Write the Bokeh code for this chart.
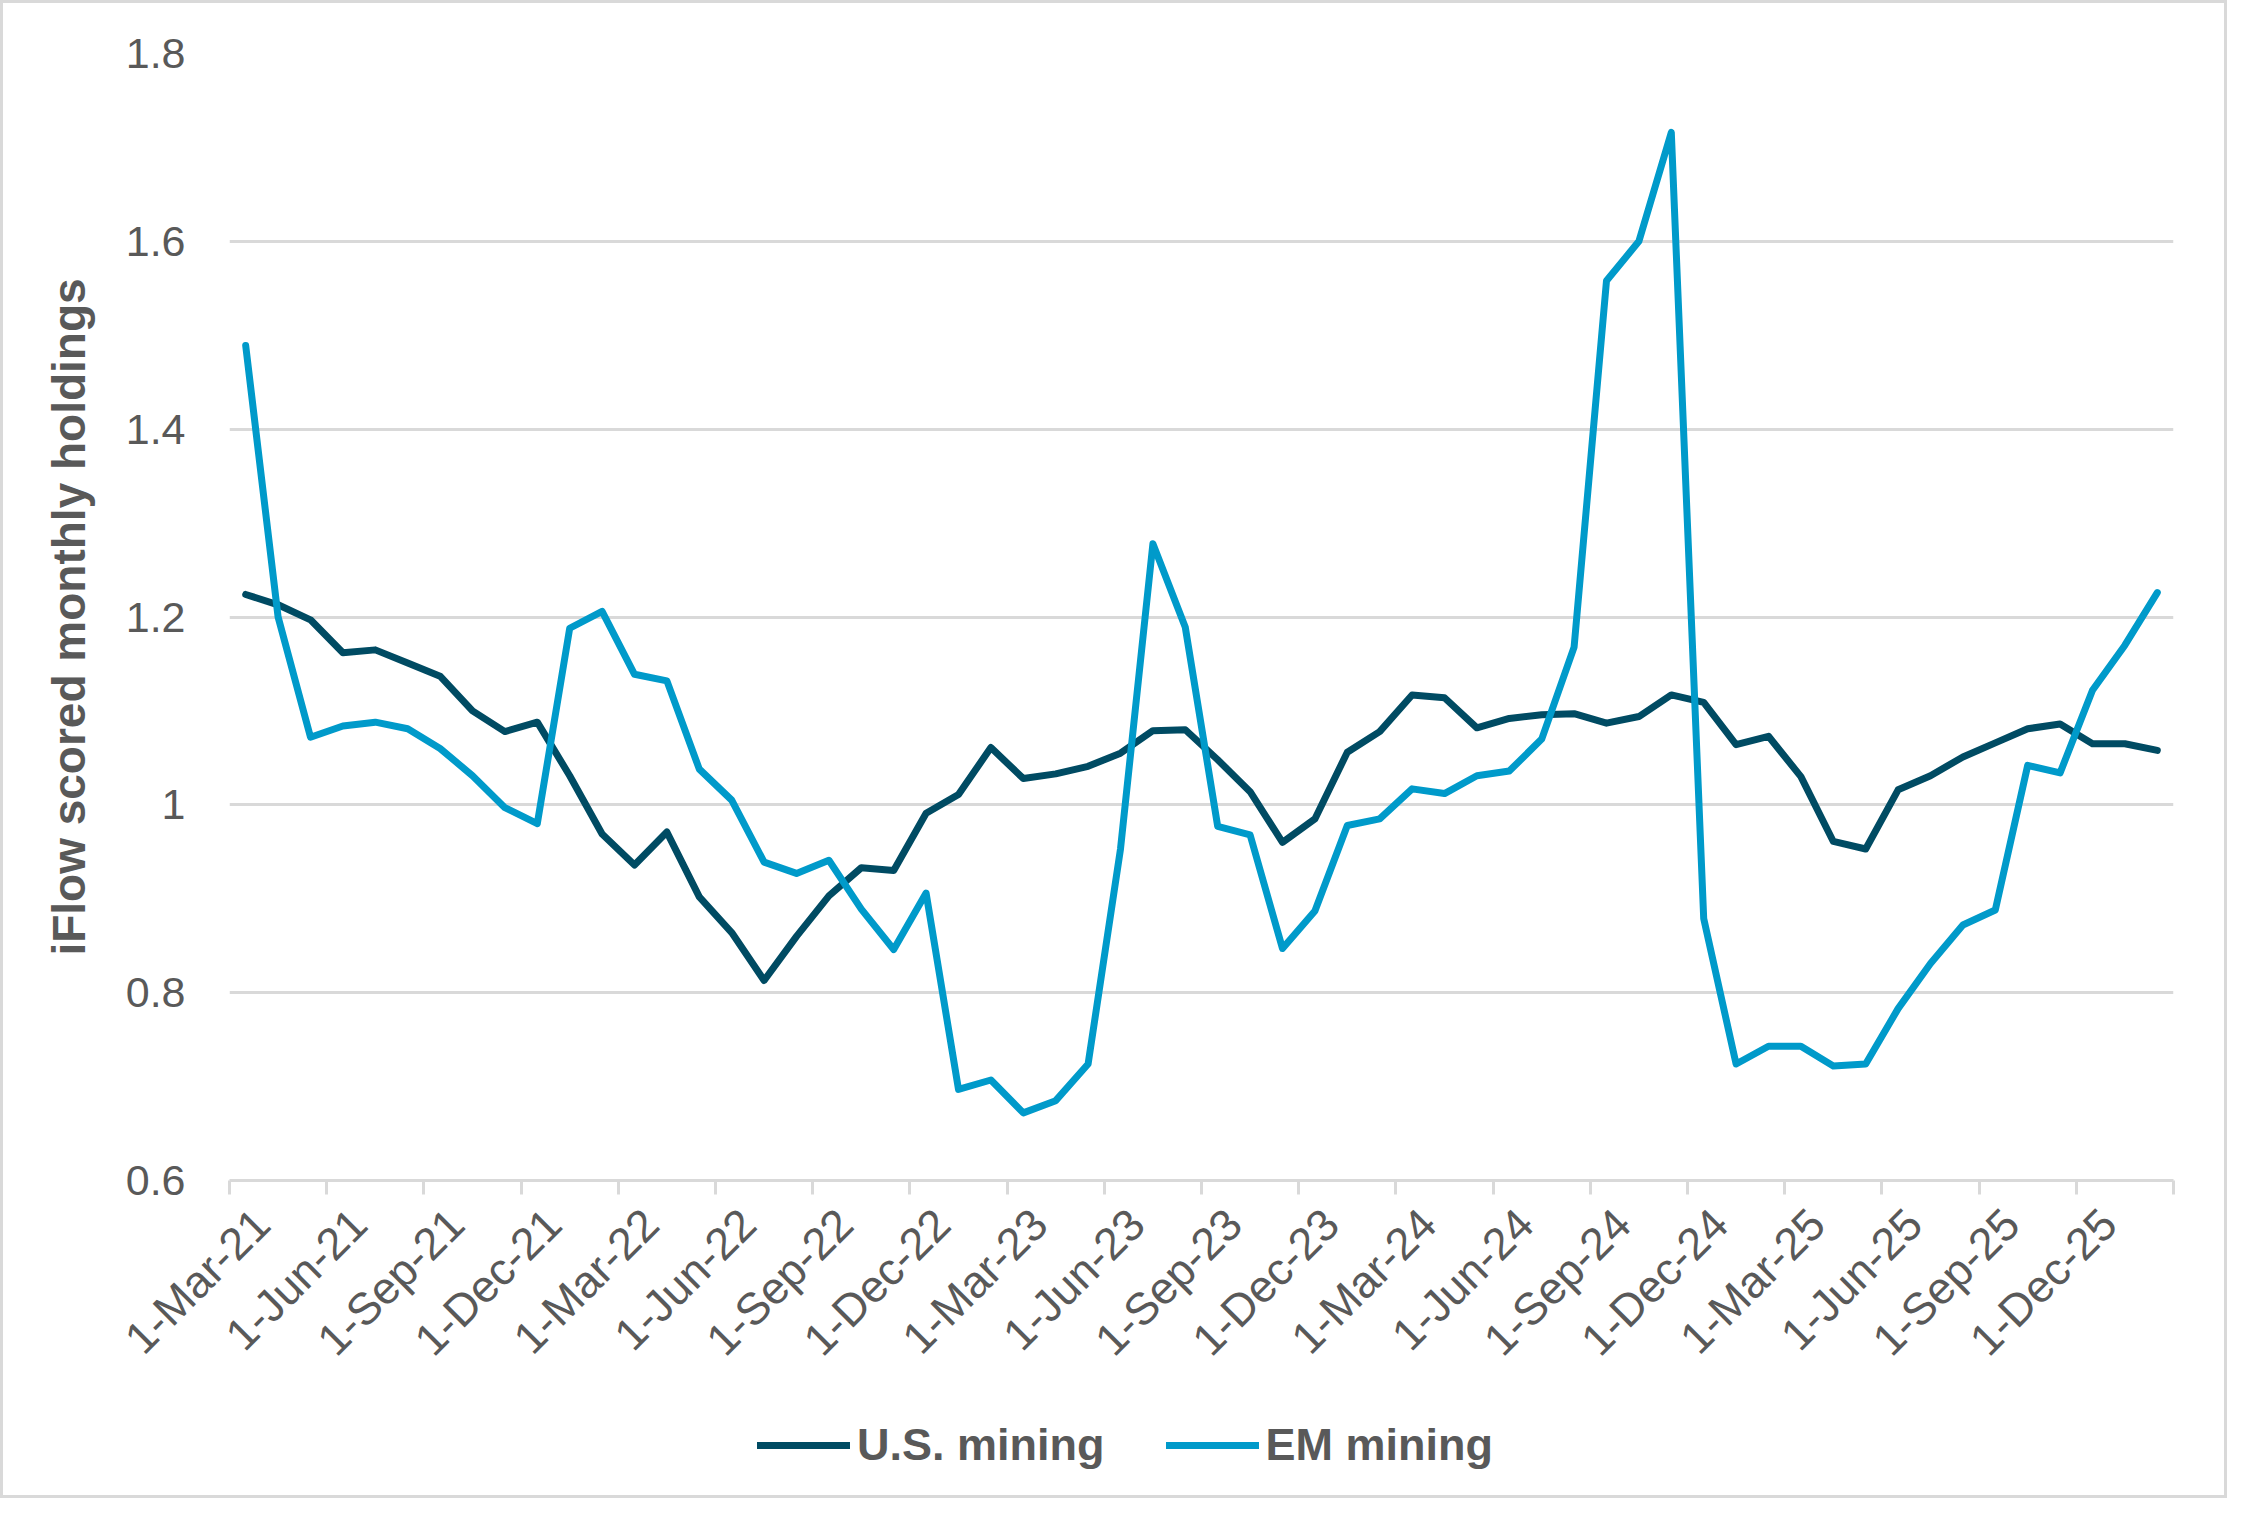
import math
from bokeh.plotting import figure
from bokeh.layouts import column
from bokeh.models import FixedTicker, Legend, LegendItem
from bokeh.embed import file_html
from bokeh.resources import INLINE

# monthly values, Mar-21 .. Feb-26
us_mining = [1.224, 1.213, 1.197, 1.162, 1.165, 1.151, 1.137, 1.100, 1.078, 1.088,
             1.031, 0.969, 0.936, 0.971, 0.902, 0.864, 0.813, 0.860, 0.903, 0.933,
             0.930, 0.991, 1.011, 1.061, 1.028, 1.033, 1.041, 1.055, 1.079, 1.080,
             1.048, 1.014, 0.960, 0.985, 1.056, 1.078, 1.117, 1.114, 1.082, 1.092,
             1.096, 1.097, 1.087, 1.094, 1.117, 1.109, 1.064, 1.073, 1.030, 0.961,
             0.953, 1.016, 1.031, 1.051, 1.066, 1.081, 1.086, 1.065, 1.065, 1.058]
em_mining = [1.489, 1.200, 1.072, 1.084, 1.088, 1.081, 1.060, 1.031, 0.997, 0.980,
             1.188, 1.206, 1.139, 1.132, 1.038, 1.005, 0.939, 0.927, 0.941, 0.889,
             0.846, 0.906, 0.697, 0.707, 0.672, 0.685, 0.724, 0.953, 1.278, 1.189,
             0.977, 0.968, 0.847, 0.887, 0.978, 0.985, 1.017, 1.012, 1.031, 1.036,
             1.070, 1.168, 1.558, 1.600, 1.716, 0.879, 0.724, 0.743, 0.743, 0.722,
             0.724, 0.783, 0.831, 0.872, 0.888, 1.042, 1.034, 1.122, 1.170, 1.226]
tick_labels = ["1-Mar-21", "1-Jun-21", "1-Sep-21", "1-Dec-21", "1-Mar-22",
               "1-Jun-22", "1-Sep-22", "1-Dec-22", "1-Mar-23", "1-Jun-23",
               "1-Sep-23", "1-Dec-23", "1-Mar-24", "1-Jun-24", "1-Sep-24",
               "1-Dec-24", "1-Mar-25", "1-Jun-25", "1-Sep-25", "1-Dec-25"]
y_ticks = [0.6, 0.8, 1.0, 1.2, 1.4, 1.6, 1.8]

FONT = "Liberation Sans"
GREY = "#595959"
LIGHT = "#d9d9d9"
US_COLOR = "#004B63"
EM_COLOR = "#009ACA"

n = len(us_mining)
x = list(range(n))

p = figure(width=2221, height=1393, output_backend="svg", toolbar_location=None,
           x_range=(-0.5, n - 0.5), y_range=(y_ticks[0], y_ticks[-1]),
           min_border_left=226, min_border_right=51, min_border_top=50,
           min_border_bottom=216)
p.outline_line_color = None
p.background_fill_color = "white"
p.border_fill_color = "white"

p.line(x, us_mining, line_color=US_COLOR, line_width=7,
       line_join="round", line_cap="round")
p.line(x, em_mining, line_color=EM_COLOR, line_width=7,
       line_join="round", line_cap="round")

# x axis: labels every third month (nudged right like Excel), marks on category boundaries
first_months = [3 * i for i in range(len(tick_labels))]
label_pos = [m + 0.5 for m in first_months]
p.xaxis.ticker = FixedTicker(ticks=label_pos,
                             minor_ticks=[m - 0.5 for m in first_months] + [n - 0.5])
p.xaxis.major_label_overrides = dict(zip(label_pos, tick_labels))
p.xaxis.major_label_orientation = math.pi / 4
p.xaxis.major_tick_line_color = None
p.xaxis.minor_tick_line_color = LIGHT
p.xaxis.minor_tick_line_width = 3
p.xaxis.minor_tick_in = 0
p.xaxis.minor_tick_out = 14
p.xaxis.axis_line_color = LIGHT
p.xaxis.axis_line_width = 3
p.xaxis.major_label_standoff = 22
p.xaxis.major_label_text_font = FONT
p.xaxis.major_label_text_font_size = "45px"
p.xaxis.major_label_text_color = GREY

p.yaxis.ticker = FixedTicker(ticks=y_ticks, minor_ticks=[])
p.yaxis.major_label_overrides = {t: f"{t:g}" for t in y_ticks}
p.yaxis.axis_line_color = None
p.yaxis.major_tick_line_color = None
p.yaxis.minor_tick_line_color = None
p.yaxis.major_label_standoff = 38
p.yaxis.major_label_text_font = FONT
p.yaxis.major_label_text_font_size = "43px"
p.yaxis.major_label_text_color = GREY
p.yaxis.axis_label = "iFlow scored monthly holdings"
p.yaxis.axis_label_text_font = FONT
p.yaxis.axis_label_text_font_style = "bold"
p.yaxis.axis_label_text_font_size = "46px"
p.yaxis.axis_label_text_color = GREY
p.yaxis.axis_label_standoff = 28

p.xgrid.grid_line_color = None
p.ygrid.grid_line_color = LIGHT
p.ygrid.grid_line_width = 3

# legend strip under the chart (a legend in a plot's centre gets clipped to its frame);
# its proxy lines carry the same series but sit outside the strip's view
leg = figure(width=2221, height=99, output_backend="svg", toolbar_location=None,
             x_range=(-10, -9), y_range=(0, 1), x_axis_location=None,
             y_axis_location=None, min_border=0)
leg.outline_line_color = None
leg.grid.visible = False
k_us = leg.line(x, us_mining, line_color=US_COLOR, line_width=7, line_cap="round")
k_em = leg.line(x, em_mining, line_color=EM_COLOR, line_width=7, line_cap="round")
legend = Legend(items=[LegendItem(label="U.S. mining", renderers=[k_us]),
                       LegendItem(label="EM mining", renderers=[k_em])],
                location=(528, 24), orientation="horizontal",
                label_text_font=FONT, label_text_font_style="bold",
                label_text_font_size="45px", label_text_color=GREY,
                glyph_width=93, glyph_height=50, label_height=50,
                label_standoff=7, spacing=61, padding=0, margin=0,
                border_line_color=None, background_fill_alpha=0)
leg.add_layout(legend)

layout = column(p, leg, spacing=0)
layout.styles = {"border": "3px solid #d9d9d9"}

open("out.html", "w").write(file_html(layout, INLINE))
